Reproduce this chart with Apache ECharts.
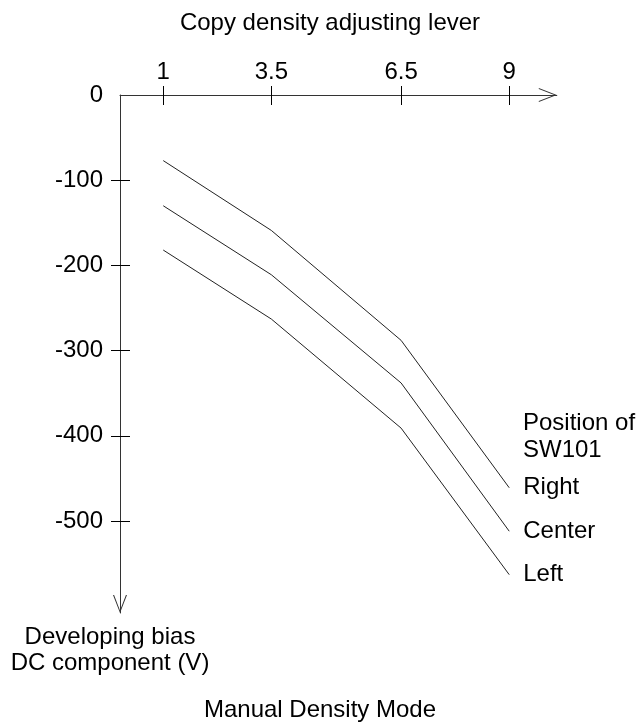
<!DOCTYPE html>
<html><head><meta charset="utf-8">
<script src="https://cdn.jsdelivr.net/npm/echarts@6/dist/echarts.min.js"></script>
<style>html,body{margin:0;padding:0;background:#fff}#c{width:640px;height:722px}</style>
</head><body><div id="c"></div>
<script>
// Data
const leverPositions = [1, 3.5, 6.5, 9];
const xTickValues = [1, 3.5, 6.5, 9];
const yLabelValues = [0, -100, -200, -300, -400, -500];
const yTickValues = [-100, -200, -300, -400, -500];
const seriesNames = ['Right', 'Center', 'Left'];
const rightValues = [-77, -159, -288, -461];
const centerValues = [-130, -211, -338, -512];
const leftValues = [-182, -263, -391, -563];
const xTitle = 'Copy density adjusting lever';
const yTitle = 'Developing bias\nDC component (V)';
const legendTitle = 'Position of\nSW101';
const chartTitle = 'Manual Density Mode';

const FONT = '"Liberation Sans", Arial, sans-serif';
const FS = 24;
const INK = '#000';
const AXIS = '#333';
const ARROW = 'path://M0,18 L7,0 L14,18 L12.9,18 L7,2.6 L1.1,18 Z';

const chart = echarts.init(document.getElementById('c'), null, {renderer: 'canvas'});
const valuesBySeries = [rightValues, centerValues, leftValues];

const xCommon = {type: 'value', min: 0, max: 10.1, splitLine: {show: false}};
const yCommon = {type: 'value', min: -608, max: 0, splitLine: {show: false}};

chart.setOption({
  animation: false,
  backgroundColor: '#fff',
  textStyle: {fontFamily: FONT},
  grid: {left: 120, top: 95, right: 83.2, bottom: 109, outerBoundsMode: 'none', containLabel: false},
  xAxis: [
    Object.assign({}, xCommon, {
      position: 'top',
      axisLine: {show: true, onZero: false, lineStyle: {color: AXIS, width: 1},
        symbol: ['none', ARROW], symbolSize: [14, 18], symbolOffset: [0, -9]},
      axisTick: {show: true, inside: false, length: 9, customValues: xTickValues, lineStyle: {color: INK}},
      axisLabel: {show: true, customValues: xTickValues, margin: 11, color: INK, fontSize: FS, fontFamily: FONT}
    }),
    Object.assign({}, xCommon, {
      position: 'bottom',
      axisLine: {show: false, onZero: true},
      axisTick: {show: true, inside: false, length: 10, customValues: xTickValues, lineStyle: {color: INK}},
      axisLabel: {show: false}
    })
  ],
  yAxis: [
    Object.assign({}, yCommon, {
      position: 'left',
      axisLine: {show: true, onZero: false, lineStyle: {color: AXIS, width: 1},
        symbol: [ARROW, 'none'], symbolSize: [14, 18], symbolOffset: [9, 0]},
      axisTick: {show: true, inside: false, length: 9, customValues: yTickValues, lineStyle: {color: INK}},
      axisLabel: {show: true, customValues: yLabelValues, margin: 17, color: INK, fontSize: FS, fontFamily: FONT}
    }),
    Object.assign({}, yCommon, {
      position: 'right',
      axisLine: {show: false, onZero: true},
      axisTick: {show: true, inside: false, length: 10, customValues: yTickValues, lineStyle: {color: INK}},
      axisLabel: {show: false}
    })
  ],
  series: seriesNames.map((name, i) => ({
    name: name,
    type: 'line',
    xAxisIndex: 0,
    yAxisIndex: 0,
    symbol: 'none',
    lineStyle: {color: '#222', width: 1},
    data: leverPositions.map((x, j) => [x, valuesBySeries[i][j]]),
    endLabel: {show: true, formatter: p => p.seriesName, distance: 14, color: INK, fontSize: FS, fontFamily: FONT}
  })),
  graphic: [
    {type: 'text', x: 330, y: 23, style: {text: xTitle, fill: INK, font: FS + 'px ' + FONT, align: 'center', verticalAlign: 'middle'}},
    {type: 'text', x: 110, y: 650, style: {text: yTitle, fill: INK, font: FS + 'px ' + FONT, align: 'center', verticalAlign: 'middle', lineHeight: 26}},
    {type: 'text', x: 523, y: 437, style: {text: legendTitle, fill: INK, font: FS + 'px ' + FONT, align: 'left', verticalAlign: 'middle', lineHeight: 27}},
    {type: 'text', x: 320, y: 710, style: {text: chartTitle, fill: INK, font: FS + 'px ' + FONT, align: 'center', verticalAlign: 'middle'}}
  ]
});
</script>
</body></html>
